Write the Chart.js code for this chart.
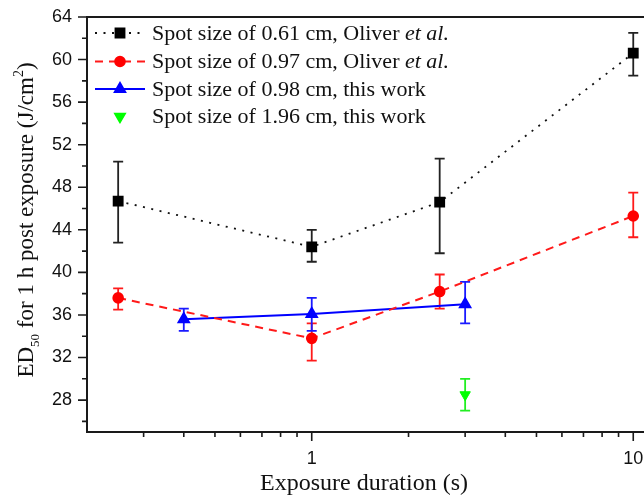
<!DOCTYPE html>
<html>
<head>
<meta charset="utf-8">
<script src="https://cdn.jsdelivr.net/npm/chart.js@4.4.1/dist/chart.umd.min.js"></script>
<style>
  html, body { margin: 0; padding: 0; background: #fff; }
  #wrap { width: 644px; height: 496px; }
</style>
</head>
<body>
<div id="wrap"><canvas id="chart-ed50" width="644" height="496"></canvas></div>
<script>
// exposure durations (s)
var durationOliver = [0.25, 1, 2.5, 10];
var durationThisWork = [0.4, 1, 3];
var durationSpot196 = [3];

// ED50 values (J/cm2) and error bar ends
var ed50Spot061 = [46.7, 42.4, 46.6, 60.6];
var errLow061 = [42.8, 41.0, 41.8, 58.5];
var errHigh061 = [50.4, 44.0, 50.7, 62.5];

var ed50Spot097 = [37.6, 33.8, 38.2, 45.3];
var errLow097 = [36.5, 31.7, 36.6, 43.3];
var errHigh097 = [38.5, 35.2, 39.8, 47.5];

var ed50Spot098 = [35.6, 36.1, 37.0];
var errLow098 = [34.5, 34.5, 35.2];
var errHigh098 = [36.6, 37.6, 39.1];

var ed50Spot196 = [28.5];
var errLow196 = [27.0];
var errHigh196 = [30.0];

// ticks
var xMajorTicks = [1, 10];
var xMinorTicks = [0.3, 0.4, 0.5, 0.6, 0.7, 0.8, 0.9, 2, 3, 4, 5, 6, 7, 8, 9];
var yMajorTicks = [28, 32, 36, 40, 44, 48, 52, 56, 60, 64];
var yMinorTicks = [26, 30, 34, 38, 42, 46, 50, 54, 58, 62];

var seriesLabels = [
  ['Spot size of 0.61 cm, Oliver ', 'et al.'],
  ['Spot size of 0.97 cm, Oliver ', 'et al.'],
  ['Spot size of 0.98 cm, this work', ''],
  ['Spot size of 1.96 cm, this work', '']
];

var SERIF = '"Liberation Serif", "Times New Roman", serif';
var AXIS_COLOR = '#1a1a1a';

function pts(xs, ys) {
  return xs.map(function(x, i) { return { x: x, y: ys[i] }; });
}

function noPadding(axis) {
  axis.paddingTop = 0;
  axis.paddingBottom = 0;
  axis.paddingLeft = 0;
  axis.paddingRight = 0;
}

// error bars, tick marks, frame, titles, legend
var decorPlugin = {
  id: 'decor',
  beforeDatasetsDraw: function(chart) {
    var ctx = chart.ctx;
    var ys = chart.scales.y;
    chart.data.datasets.forEach(function(ds, di) {
      var meta = chart.getDatasetMeta(di);
      ctx.save();
      ctx.strokeStyle = ds.errColor;
      ctx.lineWidth = 1.8;
      ctx.setLineDash([]);
      meta.data.forEach(function(pt, i) {
        var x = pt.x;
        var yl = ys.getPixelForValue(ds.errLow[i]);
        var yh = ys.getPixelForValue(ds.errHigh[i]);
        ctx.beginPath();
        ctx.moveTo(x, yl); ctx.lineTo(x, yh);
        ctx.moveTo(x - 5, yl); ctx.lineTo(x + 5, yl);
        ctx.moveTo(x - 5, yh); ctx.lineTo(x + 5, yh);
        ctx.stroke();
      });
      ctx.restore();
    });
  },
  afterDraw: function(chart) {
    var ctx = chart.ctx;
    var a = chart.chartArea;
    var xs = chart.scales.x, ys = chart.scales.y;
    ctx.save();
    ctx.strokeStyle = AXIS_COLOR;
    ctx.lineWidth = 2;
    // frame: top, left, bottom
    ctx.beginPath();
    ctx.moveTo(a.left, a.top); ctx.lineTo(a.right, a.top);
    ctx.moveTo(a.left, a.top - 1); ctx.lineTo(a.left, a.bottom + 1);
    ctx.moveTo(a.left - 1, a.bottom); ctx.lineTo(a.right, a.bottom);
    ctx.stroke();
    ctx.lineWidth = 1.6;
    ctx.beginPath();
    yMajorTicks.forEach(function(v) {
      var p = ys.getPixelForValue(v);
      ctx.moveTo(a.left, p); ctx.lineTo(a.left - 9, p);
    });
    yMinorTicks.forEach(function(v) {
      var p = ys.getPixelForValue(v);
      ctx.moveTo(a.left, p); ctx.lineTo(a.left - 5, p);
    });
    xMajorTicks.forEach(function(v) {
      var p = xs.getPixelForValue(v);
      ctx.moveTo(p, a.bottom); ctx.lineTo(p, a.bottom + 9);
    });
    xMinorTicks.forEach(function(v) {
      var p = xs.getPixelForValue(v);
      ctx.moveTo(p, a.bottom); ctx.lineTo(p, a.bottom + 5);
    });
    ctx.stroke();

    // x title
    ctx.fillStyle = '#111';
    ctx.font = '24px ' + SERIF;
    ctx.textAlign = 'center';
    ctx.textBaseline = 'alphabetic';
    ctx.fillText('Exposure duration (s)', 364, 490);

    // y title with sub/superscript
    var parts = [
      { t: 'ED', f: '23px ' + SERIF, dy: 0 },
      { t: '50', f: '13px ' + SERIF, dy: 6 },
      { t: ' for 1 h post exposure (J/cm', f: '23px ' + SERIF, dy: 0 },
      { t: '2', f: '14px ' + SERIF, dy: -10 },
      { t: ')', f: '23px ' + SERIF, dy: 0 }
    ];
    var total = 0;
    parts.forEach(function(p) { ctx.font = p.f; p.w = ctx.measureText(p.t).width; total += p.w; });
    ctx.save();
    ctx.translate(33, 220);
    ctx.rotate(-Math.PI / 2);
    ctx.textAlign = 'left';
    var cx = -total / 2;
    parts.forEach(function(p) {
      ctx.font = p.f;
      ctx.fillText(p.t, cx, p.dy);
      cx += p.w;
    });
    ctx.restore();

    // legend
    var rowY = [33, 61.5, 89, 116.5];
    chart.data.datasets.forEach(function(ds, i) {
      var y = rowY[i];
      ctx.save();
      if (ds.showLine) {
        ctx.strokeStyle = ds.borderColor;
        ctx.lineWidth = ds.borderWidth;
        ctx.setLineDash(ds.borderDash || []);
        ctx.lineCap = ds.borderCapStyle || 'butt';
        ctx.beginPath();
        ctx.moveTo(95, y); ctx.lineTo(145, y);
        ctx.stroke();
      }
      ctx.setLineDash([]);
      ctx.fillStyle = ds.pointBackgroundColor;
      ctx.strokeStyle = ds.pointBorderColor;
      Chart.helpers.drawPoint(ctx, {
        pointStyle: ds.pointStyle,
        rotation: ds.pointRotation || 0,
        radius: ds.pointRadius,
        borderWidth: 1
      }, 120, y);
      ctx.restore();
      ctx.fillStyle = '#111';
      ctx.textAlign = 'left';
      ctx.textBaseline = 'middle';
      ctx.font = '22px ' + SERIF;
      ctx.fillText(seriesLabels[i][0], 152, y + 1);
      if (seriesLabels[i][1]) {
        var w = ctx.measureText(seriesLabels[i][0]).width;
        ctx.font = 'italic 22px ' + SERIF;
        ctx.fillText(seriesLabels[i][1], 152 + w, y + 1);
      }
    });
    ctx.restore();
  }
};

Chart.defaults.font.family = '"Liberation Sans", Arial, sans-serif';
Chart.defaults.color = '#111';

var chart = new Chart(document.getElementById('chart-ed50'), {
  type: 'scatter',
  data: {
    datasets: [
      {
        label: 'Spot size of 0.61 cm, Oliver et al.',
        data: pts(durationOliver, ed50Spot061),
        errLow: errLow061, errHigh: errHigh061, errColor: '#222',
        showLine: true,
        borderColor: '#111', borderWidth: 1.8, borderDash: [2, 6.5],
        pointStyle: 'rect', pointRadius: 6.4,
        pointBackgroundColor: '#000', pointBorderColor: '#000'
      },
      {
        label: 'Spot size of 0.97 cm, Oliver et al.',
        data: pts(durationOliver, ed50Spot097),
        errLow: errLow097, errHigh: errHigh097, errColor: '#ff1a1a',
        showLine: true,
        borderColor: '#ff1a1a', borderWidth: 2, borderDash: [8, 6],
        pointStyle: 'circle', pointRadius: 4.8,
        pointBackgroundColor: '#ff0000', pointBorderColor: '#ff0000'
      },
      {
        label: 'Spot size of 0.98 cm, this work',
        data: pts(durationThisWork, ed50Spot098),
        errLow: errLow098, errHigh: errHigh098, errColor: '#1a1aff',
        showLine: true,
        borderColor: '#0000ff', borderWidth: 2,
        pointStyle: 'triangle', pointRadius: 6,
        pointBackgroundColor: '#0000ff', pointBorderColor: '#0000ff'
      },
      {
        label: 'Spot size of 1.96 cm, this work',
        data: pts(durationSpot196, ed50Spot196),
        errLow: errLow196, errHigh: errHigh196, errColor: '#22ee22',
        showLine: false,
        borderColor: '#00ff00',
        pointStyle: 'triangle', pointRotation: 180, pointRadius: 6,
        pointBackgroundColor: '#00ff00', pointBorderColor: '#00ff00'
      }
    ]
  },
  options: {
    responsive: false,
    animation: false,
    devicePixelRatio: 1,
    layout: { autoPadding: false, padding: { top: 17, right: 0, left: 0, bottom: 0 } },
    plugins: {
      legend: { display: false },
      tooltip: { enabled: false }
    },
    scales: {
      x: {
        type: 'logarithmic',
        min: 0.2,
        max: 10.8,
        grid: { display: false, drawTicks: false },
        border: { display: false },
        afterBuildTicks: function(axis) {
          axis.ticks = xMajorTicks.map(function(v) { return { value: v }; });
        },
        afterFit: function(axis) { axis.height = 64; noPadding(axis); },
        ticks: {
          autoSkip: false, maxRotation: 0, padding: 16,
          font: { size: 18 },
          callback: function(v) { return String(v); }
        }
      },
      y: {
        min: 25,
        max: 64,
        grid: { display: false, drawTicks: false },
        border: { display: false },
        afterBuildTicks: function(axis) {
          axis.ticks = yMajorTicks.map(function(v) { return { value: v }; });
        },
        afterFit: function(axis) { axis.width = 87; noPadding(axis); },
        ticks: { autoSkip: false, padding: 15, font: { size: 18 } }
      }
    }
  },
  plugins: [decorPlugin]
});
</script>
</body>
</html>
